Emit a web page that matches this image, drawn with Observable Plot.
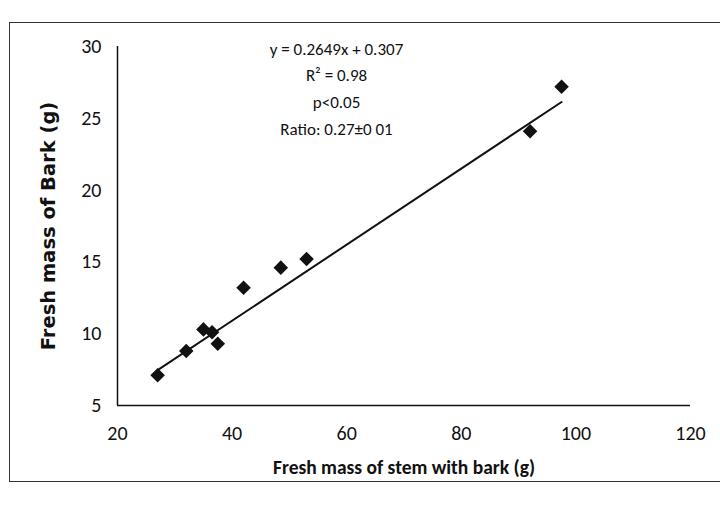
<!DOCTYPE html>
<html>
<head>
<meta charset="utf-8">
<script src="https://cdn.jsdelivr.net/npm/d3@7"></script>
<script src="https://cdn.jsdelivr.net/npm/@observablehq/plot@0.6"></script>
<style>
  html, body { margin: 0; padding: 0; background: #fff; }
  #wrap { position: relative; width: 720px; height: 507px; overflow: hidden; }
  #frame { position: absolute; left: 9px; top: 22px; width: 720px; height: 460px; border: 1.5px solid #333; box-sizing: border-box; }
  #chart { position: absolute; left: 0; top: 0; }
</style>
</head>
<body>
<div id="wrap"><div id="frame"></div><div id="chart"></div></div>
<script>
// Data
const stemMass = [27, 32, 35, 36.5, 37.5, 42, 48.5, 53, 92, 97.5];
const barkMass = [7.1, 8.8, 10.3, 10.1, 9.3, 13.2, 14.6, 15.2, 24.1, 27.2];
const slope = [0.2649];
const intercept = [0.307];
const xTicks = [20, 40, 60, 80, 100, 120];
const yTicks = [5, 10, 15, 20, 25, 30];
const annotation = ["y = 0.2649x + 0.307", "R² = 0.98", "p<0.05", "Ratio: 0.27±0 01"];
const xLabel = "Fresh mass of stem with bark (g)";
const yLabel = "Fresh mass of Bark (g)";

const points = stemMass.map((x, i) => ({x, y: barkMass[i]}));
const [xmin, xmax] = d3.extent(stemMass);
const trend = [xmin, xmax].map(x => ({x, y: slope[0] * x + intercept[0]}));

const font = "Carlito, 'Liberation Sans Narrow', 'Open Sans', sans-serif";

const chart = Plot.plot({
  width: 720,
  height: 507,
  marginLeft: 117,
  marginRight: 30,
  marginTop: 46,
  marginBottom: 102,
  style: {fontFamily: font, fontSize: "20px", color: "#111", background: "transparent"},
  x: {domain: [20, 120], ticks: xTicks, tickSize: 0, tickPadding: 20, label: null},
  y: {domain: [5, 30], ticks: yTicks, tickSize: 0, tickPadding: 16, label: null},
  marks: [
    Plot.ruleX([20], {stroke: "#111", strokeWidth: 1.5}),
    Plot.ruleY([5], {stroke: "#111", strokeWidth: 1.5}),
    Plot.line(trend, {x: "x", y: "y", stroke: "#111", strokeWidth: 2}),
    Plot.dot(points, {x: "x", y: "y", symbol: "square", rotate: 45, r: 5.8, fill: "#111", stroke: "none"}),
    ...annotation.map((t, i) => Plot.text([t], {
      frameAnchor: "top-left", dx: 219, dy: -4 + i * 26.7,
      text: d => d, fontSize: 17, fill: "#111", textAnchor: "middle"
    })),
    Plot.text([xLabel], {frameAnchor: "bottom", dy: 68, text: d => d, fontSize: 19.5, fontWeight: "bold", fill: "#111", textAnchor: "middle"}),
    Plot.text([yLabel], {frameAnchor: "left", dx: -69, rotate: -90, text: d => d, fontSize: 19.5, fontWeight: "bold", fill: "#111", textAnchor: "middle", fontFamily: "'DejaVu Sans', sans-serif"})
  ]
});
document.getElementById("chart").appendChild(chart);
</script>
</body>
</html>
